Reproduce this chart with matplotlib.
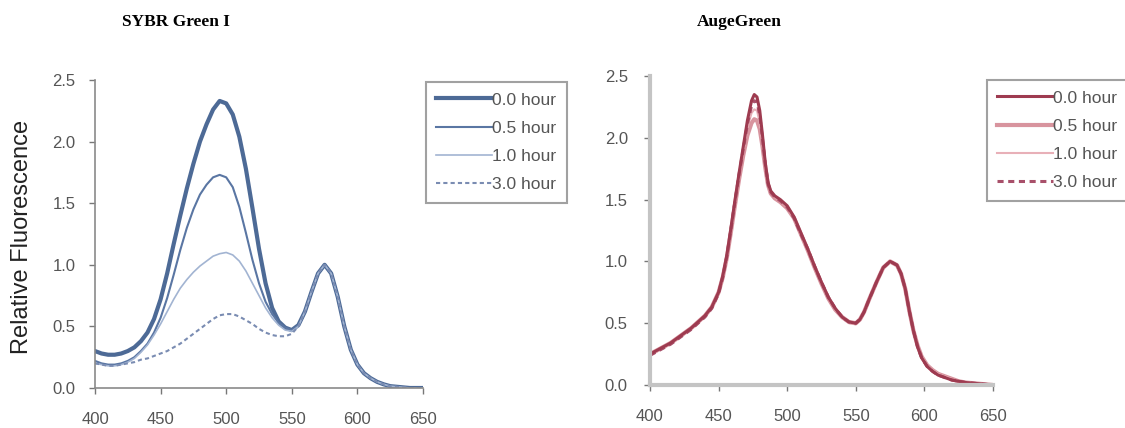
import matplotlib.pyplot as plt

plt.rcParams['font.family'] = ['Liberation Sans', 'DejaVu Sans']

# SYBR Green I spectra
wl_sybr = [400, 405, 410, 415, 420, 425, 430, 435, 440, 445, 450, 455, 460, 465, 470, 475, 480, 485,
           490, 495, 500, 505, 510, 515, 520, 525, 530, 535, 540, 545, 550, 555, 560, 565, 570, 575,
           580, 585, 590, 595, 600, 605, 610, 615, 620, 625, 630, 640, 650]
sybr_0h = [0.30, 0.28, 0.27, 0.27, 0.28, 0.30, 0.33, 0.38, 0.45, 0.56, 0.72, 0.93, 1.17, 1.40, 1.62,
           1.82, 2.00, 2.14, 2.26, 2.33, 2.31, 2.22, 2.04, 1.78, 1.46, 1.13, 0.85, 0.65, 0.54, 0.49,
           0.47, 0.51, 0.62, 0.78, 0.93, 1.00, 0.93, 0.74, 0.50, 0.31, 0.19, 0.12, 0.08, 0.05, 0.03,
           0.015, 0.01, 0.00, 0.00]
sybr_05h = [0.22, 0.20, 0.19, 0.19, 0.20, 0.22, 0.25, 0.30, 0.36, 0.45, 0.57, 0.73, 0.92, 1.12, 1.30,
            1.45, 1.57, 1.65, 1.71, 1.73, 1.71, 1.63, 1.47, 1.26, 1.04, 0.85, 0.70, 0.60, 0.53, 0.49,
            0.47, 0.51, 0.62, 0.78, 0.93, 1.00, 0.93, 0.74, 0.50, 0.31, 0.19, 0.12, 0.08, 0.05, 0.03,
            0.015, 0.01, 0.00, 0.00]
sybr_1h = [0.20, 0.19, 0.18, 0.18, 0.19, 0.21, 0.24, 0.29, 0.35, 0.43, 0.52, 0.62, 0.72, 0.81, 0.88,
           0.94, 0.99, 1.03, 1.07, 1.09, 1.10, 1.08, 1.03, 0.95, 0.85, 0.75, 0.65, 0.57, 0.51, 0.47,
           0.46, 0.50, 0.62, 0.78, 0.93, 1.00, 0.93, 0.74, 0.50, 0.31, 0.19, 0.12, 0.08, 0.05, 0.03,
           0.015, 0.01, 0.00, 0.00]
sybr_3h = [0.20, 0.19, 0.18, 0.18, 0.19, 0.20, 0.21, 0.23, 0.24, 0.26, 0.28, 0.30, 0.33, 0.36, 0.40,
           0.44, 0.48, 0.52, 0.56, 0.59, 0.60, 0.60, 0.58, 0.55, 0.52, 0.48, 0.45, 0.43, 0.42, 0.42,
           0.44, 0.50, 0.62, 0.78, 0.93, 1.00, 0.93, 0.74, 0.50, 0.31, 0.19, 0.12, 0.08, 0.05, 0.03,
           0.015, 0.01, 0.00, 0.00]

# AugeGreen spectra
wl_auge = [400, 405, 410, 415, 420, 425, 430, 435, 440, 445, 450, 453, 456, 459, 462, 465, 468, 471,
           474, 476, 478, 480, 482, 484, 486, 488, 491, 495, 500, 505, 510, 515, 520, 525, 530, 535,
           540, 545, 550, 553, 556, 560, 565, 570, 575, 580, 583, 586, 589, 592, 595, 598, 602, 606,
           610, 615, 620, 625, 630, 640, 650]
auge_0h = [0.25, 0.28, 0.31, 0.34, 0.38, 0.42, 0.46, 0.51, 0.56, 0.63, 0.75, 0.88, 1.05, 1.27, 1.50,
           1.72, 1.93, 2.14, 2.30, 2.35, 2.33, 2.22, 2.02, 1.80, 1.64, 1.57, 1.53, 1.50, 1.45, 1.36,
           1.23, 1.10, 0.96, 0.83, 0.71, 0.62, 0.55, 0.51, 0.50, 0.53, 0.59, 0.70, 0.83, 0.95, 1.00,
           0.97, 0.90, 0.78, 0.60, 0.44, 0.31, 0.22, 0.15, 0.11, 0.08, 0.06, 0.04, 0.03, 0.02, 0.01, 0.00]
auge_05h = [0.25, 0.28, 0.31, 0.34, 0.38, 0.42, 0.46, 0.51, 0.56, 0.63, 0.75, 0.87, 1.03, 1.24, 1.46,
            1.67, 1.86, 2.02, 2.12, 2.15, 2.14, 2.07, 1.93, 1.76, 1.62, 1.55, 1.51, 1.48, 1.43, 1.35,
            1.22, 1.09, 0.95, 0.82, 0.70, 0.61, 0.55, 0.51, 0.50, 0.53, 0.59, 0.70, 0.83, 0.95, 1.00,
            0.97, 0.90, 0.78, 0.60, 0.44, 0.32, 0.23, 0.16, 0.12, 0.09, 0.07, 0.05, 0.03, 0.02, 0.01, 0.00]
auge_1h = [0.24, 0.27, 0.30, 0.33, 0.37, 0.41, 0.45, 0.50, 0.55, 0.62, 0.74, 0.86, 1.03, 1.25, 1.48,
           1.69, 1.89, 2.08, 2.20, 2.23, 2.22, 2.12, 1.96, 1.78, 1.63, 1.56, 1.52, 1.49, 1.44, 1.35,
           1.22, 1.09, 0.95, 0.82, 0.70, 0.61, 0.54, 0.50, 0.49, 0.52, 0.58, 0.69, 0.82, 0.94, 0.99,
           0.96, 0.89, 0.77, 0.60, 0.44, 0.32, 0.23, 0.16, 0.12, 0.09, 0.07, 0.05, 0.03, 0.02, 0.01, 0.00]
auge_3h = [0.24, 0.27, 0.30, 0.33, 0.37, 0.41, 0.45, 0.50, 0.55, 0.62, 0.74, 0.87, 1.04, 1.26, 1.49,
           1.71, 1.91, 2.11, 2.26, 2.30, 2.29, 2.18, 1.99, 1.79, 1.63, 1.56, 1.52, 1.49, 1.44, 1.35,
           1.22, 1.10, 0.96, 0.83, 0.71, 0.62, 0.55, 0.51, 0.50, 0.53, 0.59, 0.70, 0.83, 0.95, 1.00,
           0.97, 0.90, 0.78, 0.60, 0.44, 0.31, 0.22, 0.15, 0.11, 0.08, 0.06, 0.04, 0.03, 0.02, 0.01, 0.00]

labels = ['0.0 hour', '0.5 hour', '1.0 hour', '3.0 hour']
xticks = [400, 450, 500, 550, 600, 650]
yticks = [0.0, 0.5, 1.0, 1.5, 2.0, 2.5]

fig = plt.figure(figsize=(11.25, 4.28), dpi=100)
W, H = 1125, 428


def px_axes(x0, x1, y0, y1):
    return fig.add_axes([x0 / W, 1 - y1 / H, (x1 - x0) / W, (y1 - y0) / H])


def style(ax, spine_color, spine_w, ypad):
    ax.set_xlim(400, 650)
    ax.set_ylim(0, 2.5)
    ax.set_xticks(xticks)
    ax.set_yticks(yticks)
    ax.set_yticklabels(['%.1f' % v for v in yticks])
    for s in ['top', 'right']:
        ax.spines[s].set_visible(False)
    for s in ['left', 'bottom']:
        ax.spines[s].set_color(spine_color)
        ax.spines[s].set_linewidth(spine_w)
    ax.tick_params(colors='#777777', labelcolor='#555555', labelsize=12, length=4, width=1, direction='out')
    ax.tick_params(axis='x', pad=13)
    ax.tick_params(axis='y', pad=ypad)


def add_legend(ax, handles, x0, y0):
    leg = ax.legend(handles, labels, loc='upper left', bbox_to_anchor=(x0 / W, 1 - y0 / H),
                    bbox_transform=fig.transFigure, frameon=True, fancybox=False, handlelength=3.2,
                    handletextpad=0.0, labelspacing=0.75, fontsize=12.5, borderpad=0.6, borderaxespad=0)
    leg.get_frame().set_edgecolor('#8a8a8a')
    leg.get_frame().set_linewidth(1.5)
    for t in leg.get_texts():
        t.set_color('#555555')
    return leg


# left panel
ax1 = px_axes(95, 423, 80, 388)
s_styles = [dict(color='#4d6a96', lw=3.0), dict(color='#5a76a3', lw=1.5),
            dict(color='#a2b4d2', lw=1.2), dict(color='#7a8cb2', lw=1.5, ls=(0, (2, 1.5)))]
s_lines = []
for ys, st in zip([sybr_0h, sybr_05h, sybr_1h, sybr_3h], s_styles):
    ln, = ax1.plot(wl_sybr, ys, solid_joinstyle='round', **st)
    s_lines.append(ln)
style(ax1, '#8a8a8a', 1.2, 10)
ax1.set_ylabel('Relative Fluorescence', fontsize=17, color='#222222')
ax1.yaxis.set_label_coords(-0.19, 0.49)
add_legend(ax1, s_lines, 426, 82)

# right panel
ax2 = px_axes(650, 993, 76, 385)
a_styles = [dict(color='#9e3b50', lw=2.2), dict(color='#d8949e', lw=3.0),
            dict(color='#e8b0b8', lw=1.5), dict(color='#a8506a', lw=2.2, ls=(0, (2, 1.5)))]
a_series = [auge_0h, auge_05h, auge_1h, auge_3h]
a_lines = {}
for i in [1, 2, 3, 0]:
    a_lines[i], = ax2.plot(wl_auge, a_series[i], solid_joinstyle='round', **a_styles[i])
style(ax2, '#c4c4c4', 3.0, 12)
add_legend(ax2, [a_lines[i] for i in range(4)], 987, 80)

# titles
fig.text(122 / W, 1 - 22 / H, 'SYBR Green I', family='Liberation Serif', weight='bold', fontsize=12.5,
         va='center', ha='left')
fig.text(697 / W, 1 - 22 / H, 'AugeGreen', family='Liberation Serif', weight='bold', fontsize=12.5,
         va='center', ha='left')

fig.savefig('out.png', dpi=100)
